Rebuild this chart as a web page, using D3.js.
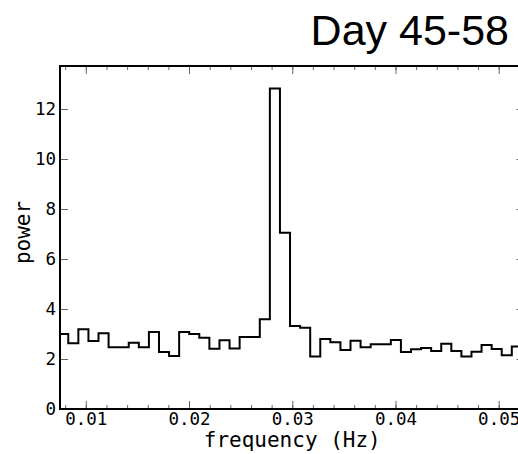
<!DOCTYPE html>
<html>
<head>
<meta charset="utf-8">
<script src="https://cdn.jsdelivr.net/npm/d3@7/dist/d3.min.js"></script>
<style>
  html, body { margin: 0; padding: 0; background: #fff; }
  svg { display: block; }
</style>
</head>
<body>
<svg id="chart" width="518" height="454"></svg>
<script>
// ---- data ----
const title = "Day 45-58";
const xLabel = "frequency (Hz)";
const yLabel = "power";
const binWidth = 1 / 1024; // Hz
const binIndex = [8,9,10,11,12,13,14,15,16,17,18,19,20,21,22,23,24,25,26,27,28,29,30,
                  31,32,33,34,35,36,37,38,39,40,41,42,43,44,45,46,47,48,49,50,51,52,53];
const power = [3.0,2.63,3.19,2.72,3.03,2.47,2.47,2.65,2.47,3.08,2.28,2.12,3.08,3.0,2.85,2.41,2.75,2.42,2.88,2.88,3.59,12.82,7.05,
               3.32,3.25,2.1,2.8,2.67,2.36,2.73,2.47,2.59,2.59,2.76,2.28,2.39,2.44,2.32,2.61,2.32,2.1,2.29,2.56,2.4,2.15,2.5];
const xTicks = [0.01, 0.02, 0.03, 0.04, 0.05];
const xTickLabels = ["0.01", "0.02", "0.03", "0.04", "0.05"];
const xMinorTicks = [0.008,0.010,0.012,0.014,0.016,0.018,0.020,0.022,0.024,0.026,0.028,0.030,
                     0.032,0.034,0.036,0.038,0.040,0.042,0.044,0.046,0.048,0.050,0.052];
const yTicks = [0, 2, 4, 6, 8, 10, 12];
const yTickLabels = ["0", "2", "4", "6", "8", "10", "12"];

// ---- layout ----
const mLeft = 60, mRight = 524.5, mTop = 66, mBottom = 409;
const svg = d3.select("#chart");

const x = d3.scaleLinear().domain([0.0075, 0.0525]).range([mLeft, mRight]);
const y = d3.scaleLinear().domain([0, 13.72]).range([mBottom, mTop]);

// step points: left edges of each bin + final right edge
const pts = binIndex.map((k, i) => ({ f: (k - 0.5) * binWidth, v: power[i] }));
pts.push({ f: (binIndex[binIndex.length - 1] + 0.5) * binWidth, v: power[power.length - 1] });

svg.append("defs").append("clipPath").attr("id", "clip")
  .append("rect").attr("x", mLeft).attr("y", mTop).attr("width", mRight - mLeft).attr("height", mBottom - mTop);

const line = d3.line().x(d => x(d.f)).y(d => y(d.v)).curve(d3.curveStepAfter);
svg.append("path")
  .datum(pts)
  .attr("clip-path", "url(#clip)")
  .attr("d", line)
  .attr("fill", "none")
  .attr("stroke", "#000")
  .attr("stroke-width", 2)
  .attr("stroke-linejoin", "miter");

const tickFont = "'DejaVu Sans Mono', monospace";

// bottom axis
const gB = svg.append("g").attr("transform", `translate(0,${mBottom})`)
  .call(d3.axisBottom(x).tickValues(xTicks).tickSize(-8).tickPadding(4)
        .tickFormat((d, i) => xTickLabels[i]));
gB.append("g").call(d3.axisBottom(x).tickValues(xMinorTicks).tickSize(-4).tickFormat(""));
// top axis
const gT = svg.append("g").attr("transform", `translate(0,${mTop})`)
  .call(d3.axisTop(x).tickValues(xTicks).tickSize(-8).tickFormat(""));
gT.append("g").call(d3.axisTop(x).tickValues(xMinorTicks).tickSize(-4).tickFormat(""));
// left axis
const gL = svg.append("g").attr("transform", `translate(${mLeft},0)`)
  .call(d3.axisLeft(y).tickValues(yTicks).tickSize(-8).tickPadding(4)
        .tickFormat((d, i) => yTickLabels[i]));
// right axis
const gR = svg.append("g").attr("transform", `translate(${mRight},0)`)
  .call(d3.axisRight(y).tickValues(yTicks).tickSize(-8).tickFormat(""));

svg.selectAll(".domain").remove();
svg.selectAll(".tick line").attr("stroke", "#666").attr("stroke-width", 1);
svg.selectAll(".tick text").attr("font-family", tickFont).attr("font-size", 17.5).attr("fill", "#000");

// frame
svg.append("rect")
  .attr("x", mLeft).attr("y", mTop).attr("width", mRight - mLeft).attr("height", mBottom - mTop)
  .attr("fill", "none").attr("stroke", "#000").attr("stroke-width", 2);

// labels
svg.append("text")
  .attr("x", (mLeft + mRight) / 2).attr("y", 447)
  .attr("text-anchor", "middle")
  .attr("font-family", tickFont).attr("font-size", 21)
  .text(xLabel);

svg.append("text")
  .attr("transform", `translate(30,${(mTop + mBottom) / 2 - 5}) rotate(-90)`)
  .attr("text-anchor", "middle")
  .attr("font-family", tickFont).attr("font-size", 21)
  .text(yLabel);

svg.append("text")
  .attr("x", 509).attr("y", 45)
  .attr("text-anchor", "end")
  .attr("font-family", "'Liberation Sans', Arial, sans-serif").attr("font-size", 43)
  .text(title);
</script>
</body>
</html>
